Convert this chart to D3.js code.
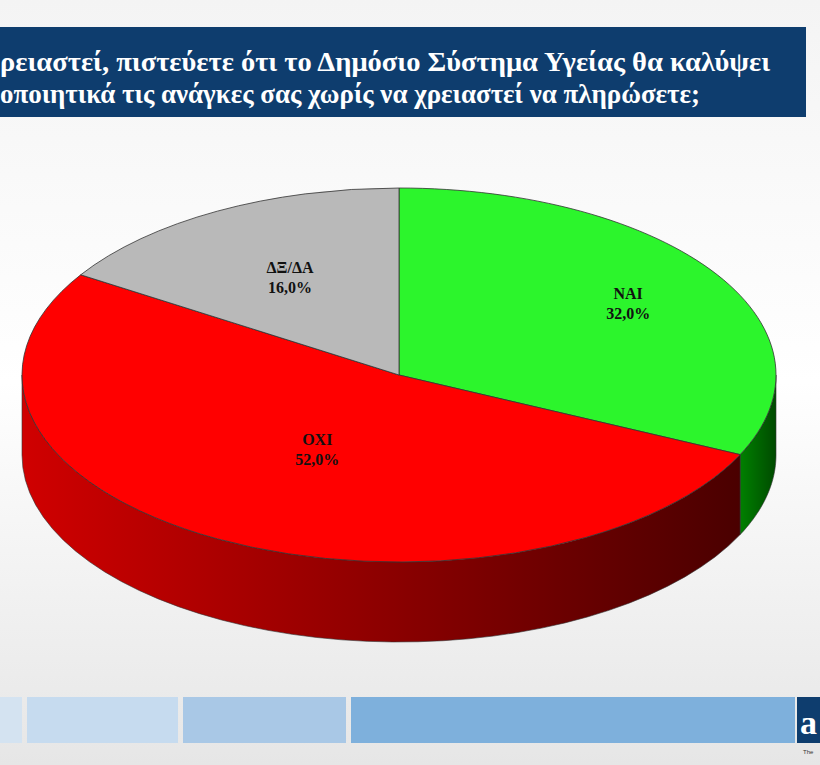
<!DOCTYPE html>
<html><head><meta charset="utf-8">
<script src="https://cdn.jsdelivr.net/npm/d3@7"></script>
<style>body{margin:0;}svg{display:block;}</style>
</head><body>
<svg id="chart" width="820" height="765"></svg>
<script>
// data
var labels = ["ΝΑΙ", "ΟΧΙ", "ΔΞ/ΔΑ"];
var values = [32.0, 52.0, 16.0];
var topColors = ["#2cf52c", "#ff0000", "#b9b9b9"];
var sideColors = [["#008000", "#004a00"], ["#d00000", "#4a0000"], ["#8a8a8a", "#555"]];
var labelR = [0.72, 0.45, 0.6];
var titleLines = ["ρειαστεί, πιστεύετε ότι το Δημόσιο Σύστημα Υγείας θα καλύψει",
                  "οποιητικά τις ανάγκες σας χωρίς να χρειαστεί να πληρώσετε;"];

var svg = d3.select("#chart");
const cx = 399, cy = 375, rx = 377, ry = 187, depth = 80;

var defs = svg.append("defs");
var bg = defs.append("linearGradient").attr("id", "bg").attr("x1", 0).attr("y1", 0).attr("x2", 0).attr("y2", 1);
bg.append("stop").attr("offset", 0).attr("stop-color", "#f4f4f4");
bg.append("stop").attr("offset", 0.5).attr("stop-color", "#ffffff");
bg.append("stop").attr("offset", 1).attr("stop-color", "#e6e6e6");
svg.append("rect").attr("width", 820).attr("height", 765).attr("fill", "url(#bg)");

// title bar
svg.append("rect").attr("x", 0).attr("y", 27).attr("width", 806).attr("height", 90).attr("fill", "#0e3d6e");
svg.selectAll(".title").data(titleLines).enter().append("text")
	.attr("x", 0).attr("y", (d, i) => 71 + i * 32)
	.attr("fill", "#fff").attr("font-family", "Liberation Serif").attr("font-weight", "bold")
	.attr("font-size", 28).attr("textLength", (d, i) => i == 0 ? 770 : 700).attr("lengthAdjust", "spacingAndGlyphs")
	.text(d => d);

// pie
var pie = d3.pie().sort(null).value(d => d);
var arcs = pie(values);
function pt(a, dy) { return [cx + rx * Math.sin(a), cy - ry * Math.cos(a) + dy]; }

// side walls (front half only)
arcs.forEach(function (d, i) {
	var a0 = Math.max(d.startAngle, Math.PI / 2), a1 = Math.min(d.endAngle, 3 * Math.PI / 2);
	if (a1 <= a0) return;
	var g = defs.append("linearGradient").attr("id", "side" + i)
		.attr("gradientUnits", "userSpaceOnUse")
		.attr("x1", pt(a1, 0)[0]).attr("x2", pt(a0, 0)[0]).attr("y1", 0).attr("y2", 0);
	g.append("stop").attr("offset", 0).attr("stop-color", sideColors[i][0]);
	g.append("stop").attr("offset", 1).attr("stop-color", sideColors[i][1]);
	var pts = d3.range(0, 41).map(k => pt(a0 + (a1 - a0) * k / 40, 0));
	var bot = d3.range(40, -1, -1).map(k => pt(a0 + (a1 - a0) * k / 40, depth));
	svg.append("path").attr("d", d3.line()(pts.concat(bot)) + "Z")
		.attr("fill", "url(#side" + i + ")").attr("stroke", "#333").attr("stroke-width", 0.6);
});

// top faces
var arc = d3.arc().innerRadius(0).outerRadius(rx);
svg.append("g").attr("transform", `translate(${cx},${cy}) scale(1,${ry / rx})`)
	.selectAll("path").data(arcs).enter().append("path")
	.attr("d", arc).attr("fill", (d, i) => topColors[i])
	.attr("stroke", "#333").attr("stroke-width", 0.8).attr("vector-effect", "non-scaling-stroke");

// labels
arcs.forEach(function (d, i) {
	var m = (d.startAngle + d.endAngle) / 2;
	var x = cx + rx * labelR[i] * Math.sin(m), y = cy - ry * labelR[i] * Math.cos(m);
	var t = svg.append("text").attr("text-anchor", "middle").attr("font-family", "Liberation Serif")
		.attr("font-weight", "bold").attr("font-size", 16).attr("fill", "#111");
	t.append("tspan").attr("x", x).attr("y", y - 4).text(labels[i]);
	t.append("tspan").attr("x", x).attr("y", y + 16).text(d3.format(".1f")(d.data).replace(".", ",") + "%");
});

// bottom band
var band = [[0, 22, "#d4e3f1"], [27, 178, "#c6dbef"], [183, 346, "#a9c8e6"], [351, 795, "#7eb0dc"]];
svg.selectAll(".band").data(band).enter().append("rect")
	.attr("x", d => d[0]).attr("width", d => d[1] - d[0]).attr("y", 697).attr("height", 46).attr("fill", d => d[2]);
svg.append("rect").attr("x", 797).attr("y", 697).attr("width", 23).attr("height", 46).attr("fill", "#0e3d6e");
svg.append("text").attr("x", 800).attr("y", 734).attr("fill", "#fff").attr("font-family", "Liberation Serif")
	.attr("font-weight", "bold").attr("font-size", 34).text("a");
svg.append("text").attr("x", 803).attr("y", 754).attr("fill", "#333").attr("font-family", "Liberation Sans")
	.attr("font-size", 6).text("The");
</script>
</body></html>
